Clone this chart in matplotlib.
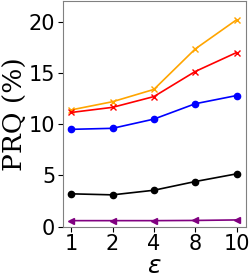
import matplotlib
matplotlib.use("Agg")
import matplotlib.pyplot as plt

eps_labels = ['1', '2', '4', '8', '10']
orange_vals = [11.4, 12.2, 13.4, 17.35, 20.2]
red_vals = [11.15, 11.65, 12.7, 15.15, 17.0]
blue_vals = [9.5, 9.6, 10.5, 12.0, 12.8]
black_vals = [3.2, 3.1, 3.55, 4.4, 5.15]
purple_vals = [0.58, 0.58, 0.58, 0.6, 0.65]

x = range(len(eps_labels))

fig = plt.figure(figsize=(2.49, 2.77), dpi=100)
ax = fig.add_axes([0.253, 0.182, 0.735, 0.813])

ax.plot(x, orange_vals, color='orange', marker='x', markersize=5, linewidth=1.2)
ax.plot(x, red_vals, color='red', marker='x', markersize=5, linewidth=1.2)
ax.plot(x, blue_vals, color='blue', marker='o', markersize=4.5, linewidth=1.2)
ax.plot(x, black_vals, color='black', marker='o', markersize=4.5, linewidth=1.2)
ax.plot(x, purple_vals, color='purple', marker='<', markersize=5, linewidth=1.2)

ax.set_xticks(list(x))
ax.set_xticklabels(eps_labels)
ax.set_xlim(-0.2, 4.23)
ax.set_ylim(0, 22)
ax.set_yticks([0, 5, 10, 15, 20])
ax.tick_params(labelsize=15, pad=2)
for s in ax.spines.values():
    s.set_color('gray')

ax.set_ylabel('PRQ (%)', fontsize=19, family='DejaVu Serif', labelpad=1)
ax.set_xlabel(r'$\varepsilon$', fontsize=18, labelpad=0)

fig.savefig('out.png', dpi=100)
